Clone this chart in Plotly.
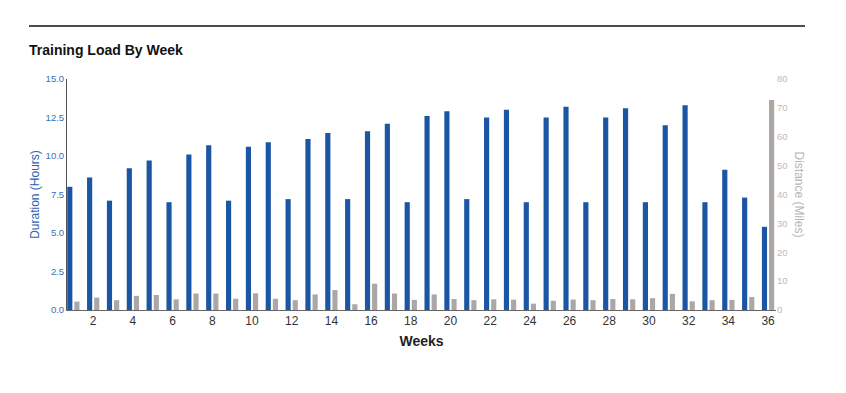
import plotly.graph_objects as go

weeks = list(range(1, 37))
duration_hours = [8.0, 8.6, 7.1, 9.2, 9.7, 7.0, 10.1, 10.7, 7.1, 10.6, 10.9, 7.2,
                  11.1, 11.5, 7.2, 11.6, 12.1, 7.0, 12.6, 12.9, 7.2, 12.5, 13.0, 7.0,
                  12.5, 13.2, 7.0, 12.5, 13.1, 7.0, 12.0, 13.3, 7.0, 9.1, 7.3, 5.4]
distance_miles = [2.9, 4.3, 3.4, 4.9, 5.2, 3.7, 5.7, 5.7, 3.9, 5.8, 3.9, 3.4,
                  5.4, 6.9, 2.0, 9.1, 5.7, 3.5, 5.4, 3.8, 3.4, 3.7, 3.6, 2.2,
                  3.2, 3.6, 3.4, 3.8, 3.7, 4.1, 5.6, 3.0, 3.4, 3.5, 4.5, 72.7]
x_tick_values = list(range(2, 37, 2))

BLUE = "#1b56a4"
GRAY = "#aba7a7"
FONT = "Liberation Sans, Arial, sans-serif"

fig = go.Figure()
fig.add_trace(go.Bar(x=weeks, y=duration_hours, name="Duration",
                     marker=dict(color=BLUE, line=dict(width=0)),
                     width=0.26, offset=-0.31, yaxis="y"))
fig.add_trace(go.Bar(x=weeks, y=distance_miles, name="Distance",
                     marker=dict(color=GRAY, line=dict(width=0)),
                     width=0.26, offset=0.05, yaxis="y2"))

fig.update_layout(
    width=838, height=385,
    margin=dict(l=59, r=70, t=71, b=83),
    paper_bgcolor="white", plot_bgcolor="white",
    showlegend=False,
    font=dict(family=FONT),
    barmode="overlay",
    xaxis=dict(range=[0.68, 36.4], tickmode="array", tickvals=x_tick_values,
               ticktext=[str(v) for v in x_tick_values],
               showgrid=False, zeroline=False, showline=True, linecolor="#666", linewidth=1,
               ticks="", tickfont=dict(size=12, color="#333"),
               title=dict(text="<b>Weeks</b>", font=dict(size=14, color="#222"), standoff=8)),
    yaxis=dict(range=[0, 15], dtick=2.5, tick0=0, tickformat=".1f",
               showgrid=False, zeroline=False, showline=True, linecolor="#555", linewidth=1,
               ticks="", tickfont=dict(size=9.5, color="#3b6db3"),
               title=dict(text="Duration (Hours)", font=dict(size=12, color="#2a62b0"), standoff=3)),
    yaxis2=dict(range=[0, 80], dtick=10, tick0=0, overlaying="y", side="right",
                showgrid=False, zeroline=False, showline=False, ticks="",
                tickfont=dict(size=9.5, color="#bbbbbb")),
    annotations=[
        dict(text="Distance (Miles)", textangle=90, xref="paper", yref="paper",
             x=(799 - 67) / 709, y=0.5, xanchor="center", yanchor="middle",
             showarrow=False, font=dict(size=12, color="#b5b5b5", family=FONT)),
        dict(text="<b>Training Load By Week</b>", xref="paper", yref="paper",
             x=(27 - 67) / 709, y=(310 - 50) / 231, xanchor="left", yanchor="middle",
             showarrow=False, font=dict(size=14, color="#111", family=FONT)),
    ],
    shapes=[
        dict(type="line", xref="paper", yref="paper",
             x0=(29 - 67) / 709, x1=(805 - 67) / 709,
             y0=(310 - 26) / 231, y1=(310 - 26) / 231,
             line=dict(color="#111", width=1.5)),
    ],
)

fig.write_html("out.html")
